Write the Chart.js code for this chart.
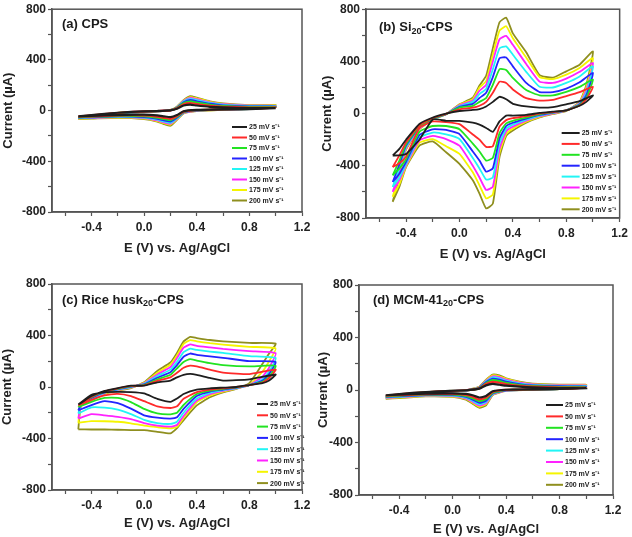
<!DOCTYPE html>
<html>
<head>
<meta charset="utf-8">
<script src="https://cdn.jsdelivr.net/npm/chart.js@4.4.0/dist/chart.umd.min.js"></script>
<style>
  html, body { margin: 0; padding: 0; background: #fff; }
  #figure { position: relative; width: 632px; height: 537px; }
  canvas { position: absolute; }
</style>
</head>
<body>
<div id="figure">
  <canvas id="chartA" width="316" height="268" style="left:0;top:0"></canvas>
  <canvas id="chartB" width="316" height="268" style="left:316px;top:0"></canvas>
  <canvas id="chartC" width="316" height="269" style="left:0;top:268px"></canvas>
  <canvas id="chartD" width="316" height="269" style="left:316px;top:268px"></canvas>
</div>
<script>
const scanRates = ['25 mV s⁻¹', '50 mV s⁻¹', '75 mV s⁻¹', '100 mV s⁻¹', '125 mV s⁻¹', '150 mV s⁻¹', '175 mV s⁻¹', '200 mV s⁻¹'];
const lineColors = ['#1e1e1e', '#ff2a2a', '#22e322', '#2424ff', '#22f5f5', '#ff22ff', '#f5f500', '#8f8f1f'];

const xTicks = [-0.6, -0.4, -0.2, 0.0, 0.2, 0.4, 0.6, 0.8, 1.0, 1.2];
const xLabels = ['', '-0.4', '', '0.0', '', '0.4', '', '0.8', '', '1.2'];
const yTicks = [-800, -600, -400, -200, 0, 200, 400, 600, 800];
const yLabels = ['-800', '', '-400', '', '0', '', '400', '', '800'];

// potential along each loop: forward scan, then reverse scan (V)
const potentialA = [-0.5, -0.3, -0.1, 0.1, 0.2, 0.25, 0.3, 0.35, 0.4, 0.5, 0.6, 0.8, 1.0,
  0.8, 0.6, 0.4, 0.3, 0.25, 0.2, 0.15, 0.1, 0.0, -0.2, -0.4, -0.5];
const potentialB = [-0.5, -0.45, -0.4, -0.3, -0.2, -0.1, 0.0, 0.1, 0.15, 0.2, 0.25, 0.3, 0.35, 0.4, 0.5, 0.6, 0.7, 0.8, 0.9, 1.0,
  0.95, 0.9, 0.8, 0.7, 0.6, 0.5, 0.4, 0.35, 0.3, 0.25, 0.2, 0.15, 0.1, 0.0, -0.1, -0.2, -0.3, -0.4, -0.45, -0.5];
const potentialC = [-0.5, -0.48, -0.4, -0.3, -0.2, -0.1, 0.0, 0.1, 0.2, 0.25, 0.3, 0.35, 0.4, 0.5, 0.6, 0.8, 1.0,
  0.95, 0.9, 0.8, 0.7, 0.6, 0.5, 0.4, 0.3, 0.25, 0.2, 0.1, 0.0, -0.1, -0.2, -0.3, -0.4, -0.5];
const potentialD = potentialA;

// currents (uA), one row per scan rate
const currentA = [
  [-45, -25, -10, -3, 2, 15, 40, 47, 40, 30, 25, 20, 20, 12, 10, 5, -5, -35, -52, -45, -38, -32, -35, -42, -45],
  [-48, -27, -11, -4, 2, 18, 50, 60, 52, 38, 30, 24, 24, 13, 10, 4, -8, -42, -65, -57, -48, -38, -38, -45, -48],
  [-51, -29, -12, -4, 3, 20, 58, 72, 63, 46, 35, 28, 28, 14, 10, 3, -10, -48, -75, -66, -56, -44, -41, -48, -51],
  [-54, -30, -13, -5, 3, 22, 64, 82, 72, 53, 40, 32, 31, 14, 9, 2, -12, -54, -85, -75, -63, -49, -44, -51, -54],
  [-57, -31, -13, -5, 3, 24, 70, 90, 81, 59, 45, 35, 34, 15, 9, 1, -14, -59, -95, -84, -70, -54, -47, -54, -57],
  [-60, -32, -14, -5, 4, 26, 74, 98, 88, 64, 49, 38, 37, 15, 9, 0, -16, -63, -102, -91, -76, -58, -50, -57, -60],
  [-63, -34, -15, -5, 4, 28, 77, 105, 95, 68, 52, 40, 40, 15, 8, -1, -18, -67, -110, -98, -81, -62, -53, -60, -63],
  [-65, -35, -15, -5, 5, 30, 80, 112, 100, 72, 55, 42, 42, 15, 8, -2, -20, -70, -118, -105, -85, -65, -55, -62, -65]
];
const currentB = [
  [-321, -270, -200, -80, -30, 0, 20, 28, 35, 55, 90, 129, 110, 75, 55, 46, 50, 71, 95, 139,
    90, 60, 25, 15, 5, -10, -15, -15, -60, -140, -110, -85, -70, -56, -55, -45, -200, -309, -320, -321],
  [-410, -320, -220, -90, -35, -2, 33, 45, 60, 90, 160, 245, 235, 185, 118, 100, 105, 134, 165, 205,
    110, 62, 25, 12, 0, -20, -35, -50, -100, -250, -255, -200, -160, -81, -65, -60, -110, -330, -380, -410],
  [-473, -360, -235, -100, -38, -3, 45, 60, 90, 120, 220, 340, 335, 273, 180, 140, 140, 167, 205, 261,
    120, 65, 25, 10, -5, -30, -55, -75, -150, -340, -360, -290, -230, -119, -95, -95, -140, -350, -420, -473],
  [-524, -390, -245, -105, -40, -4, 52, 75, 120, 160, 280, 425, 430, 362, 235, 165, 165, 192, 240, 311,
    140, 70, 25, 8, -10, -38, -70, -95, -190, -420, -445, -360, -290, -157, -125, -120, -165, -370, -460, -524],
  [-562, -420, -255, -110, -42, -5, 58, 90, 150, 190, 340, 500, 515, 451, 320, 205, 200, 235, 285, 362,
    160, 75, 25, 5, -15, -46, -85, -115, -230, -490, -505, -420, -340, -195, -160, -145, -185, -385, -490, -562],
  [-600, -440, -262, -115, -43, -5, 63, 100, 175, 220, 400, 570, 595, 527, 380, 245, 235, 268, 320, 387,
    180, 80, 25, 2, -20, -54, -100, -135, -270, -560, -585, -490, -400, -246, -195, -170, -205, -395, -510, -600],
  [-638, -460, -268, -118, -44, -5, 68, 110, 200, 250, 450, 635, 670, 577, 430, 280, 265, 299, 350, 425,
    200, 85, 22, 0, -25, -62, -115, -155, -300, -620, -650, -550, -450, -309, -250, -195, -225, -405, -540, -638],
  [-676, -480, -275, -120, -45, -5, 71, 122, 215, 290, 500, 700, 735, 615, 470, 295, 275, 324, 375, 476,
    220, 90, 20, -3, -30, -70, -130, -170, -334, -690, -727, -613, -511, -385, -296, -213, -245, -410, -560, -676]
];
const currentC = [
  [-135, -125, -70, -30, -8, 10, 10, 36, 50, 75, 95, 102, 95, 70, 50, 60, 97,
    50, 30, 15, 0, -5, -10, -20, -54, -90, -115, -92, -50, -40, -38, -41, -60, -135],
  [-143, -130, -75, -33, -11, 8, 13, 48, 75, 110, 150, 166, 160, 135, 112, 100, 135,
    70, 35, 15, 0, -10, -20, -40, -92, -150, -163, -150, -110, -70, -53, -65, -100, -143],
  [-155, -135, -80, -36, -14, 5, 16, 60, 95, 145, 195, 217, 205, 185, 170, 160, 165,
    80, 40, 15, -2, -15, -28, -55, -140, -200, -212, -205, -170, -117, -85, -85, -115, -155],
  [-181, -138, -85, -40, -17, 3, 20, 72, 115, 170, 235, 260, 250, 238, 227, 201, 195,
    100, 50, 15, -5, -20, -35, -70, -170, -235, -245, -238, -220, -168, -125, -110, -140, -181],
  [-206, -141, -90, -44, -20, 0, 24, 85, 135, 195, 270, 298, 288, 275, 265, 240, 225,
    120, 60, 15, -8, -25, -45, -90, -200, -270, -287, -280, -255, -210, -176, -160, -158, -206],
  [-245, -144, -95, -47, -23, -3, 28, 97, 155, 225, 305, 331, 320, 308, 296, 278, 262,
    150, 80, 15, -10, -30, -55, -105, -225, -295, -308, -300, -280, -250, -232, -220, -211, -245],
  [-278, -147, -100, -50, -25, -5, 32, 110, 175, 245, 335, 364, 355, 340, 329, 312, 300,
    200, 120, 15, -12, -35, -65, -118, -240, -310, -321, -312, -300, -282, -270, -266, -265, -278],
  [-329, -150, -104, -53, -28, -8, 36, 125, 190, 265, 354, 389, 380, 365, 355, 342, 337,
    260, 180, 30, -15, -41, -80, -143, -257, -320, -360, -348, -335, -335, -332, -330, -330, -329]
];
const currentD = [
  [-40, -22, -10, -2, 10, 35, 46, 40, 33, 25, 20, 15, 14, 8, 5, 2, -10, -45, -57, -40, -30, -25, -28, -35, -40],
  [-44, -24, -11, -2, 12, 45, 62, 55, 44, 32, 25, 19, 18, 8, 5, 1, -15, -58, -72, -52, -38, -30, -31, -39, -44],
  [-48, -26, -12, -2, 14, 52, 75, 68, 54, 38, 29, 23, 22, 8, 4, 0, -20, -70, -85, -62, -45, -34, -34, -43, -48],
  [-51, -28, -13, -3, 16, 58, 85, 78, 62, 44, 33, 27, 26, 8, 4, -1, -24, -80, -97, -72, -51, -38, -37, -46, -51],
  [-55, -29, -14, -3, 18, 63, 95, 88, 70, 49, 37, 30, 30, 9, 4, -2, -28, -90, -108, -81, -57, -42, -40, -50, -55],
  [-58, -30, -15, -3, 20, 68, 103, 96, 77, 54, 41, 33, 33, 9, 3, -3, -31, -99, -118, -89, -62, -45, -42, -53, -58],
  [-62, -32, -16, -4, 22, 72, 110, 103, 83, 58, 44, 36, 36, 9, 3, -4, -34, -107, -126, -96, -67, -48, -45, -57, -62],
  [-65, -33, -17, -4, 24, 76, 116, 110, 88, 62, 47, 39, 39, 10, 3, -5, -37, -115, -134, -103, -72, -51, -47, -60, -65]
];

// panel captions: normal text, subscript, normal text
const panelTitles = {
  chartA: ['(a) CPS'],
  chartB: ['(b) Si', '20', '-CPS'],
  chartC: ['(c) Rice husk', '20', '-CPS'],
  chartD: ['(d) MCM-41', '20', '-CPS']
};

const fontFamily = 'Arial, "Liberation Sans", sans-serif';
Chart.defaults.font.family = fontFamily;

const frame = {
    id: 'frame',
    afterDraw(chart) {
        const {ctx, chartArea} = chart;
        ctx.save();
        ctx.strokeStyle = '#555';
        ctx.lineWidth = 1.5;
        ctx.strokeRect(chartArea.left, chartArea.top, chartArea.right - chartArea.left, chartArea.bottom - chartArea.top);
        ctx.restore();
    }
};

const panelLabel = {
    id: 'panelLabel',
    afterDraw(chart, args, opts) {
        const {ctx, chartArea} = chart;
        const parts = panelTitles[chart.canvas.id];
        let x = chartArea.left + opts.dx;
        const y = chartArea.top + opts.dy;
        ctx.save();
        ctx.fillStyle = '#1a1a1a';
        ctx.textBaseline = 'middle';
        parts.forEach((part, i) => {
            const sub = i % 2 === 1;
            ctx.font = sub ? `bold 9px ${fontFamily}` : `bold 13px ${fontFamily}`;
            ctx.fillText(part, x, sub ? y + 4 : y);
            x += ctx.measureText(part).width;
        });
        ctx.restore();
    }
};

const cvLegend = {
    id: 'cvLegend',
    afterDatasetsDraw(chart, args, opts) {
        const {ctx, chartArea} = chart;
        ctx.save();
        ctx.font = `bold 7px ${fontFamily}`;
        ctx.textBaseline = 'middle';
        ctx.fillStyle = '#222';
        chart.data.datasets.forEach((ds, i) => {
            const x = chartArea.right + opts.left;
            const y = chartArea.bottom + opts.top + i * opts.gap;
            ctx.strokeStyle = ds.borderColor;
            ctx.lineWidth = 2;
            ctx.beginPath();
            ctx.moveTo(x, y);
            ctx.lineTo(x + opts.line, y);
            ctx.stroke();
            ctx.fillText(ds.label, x + opts.line + 2, y + 0.5);
        });
        ctx.restore();
    }
};

function makeChart(id, potential, currents, cfg) {
    const datasets = currents.map((row, i) => ({
        label: scanRates[i],
        data: potential.map((e, j) => ({x: e, y: row[j]})),
        borderColor: lineColors[i],
        backgroundColor: lineColors[i],
        borderWidth: cfg.lineWidth,
        showLine: true,
        pointRadius: 0,
        tension: 0.15
    }));

    return new Chart(document.getElementById(id), {
        type: 'scatter',
        data: { datasets: datasets },
        options: {
            responsive: false,
            animation: false,
            layout: { padding: cfg.padding },
            plugins: {
                legend: { display: false },
                tooltip: { enabled: false },
                cvLegend: cfg.legend,
                panelLabel: cfg.label
            },
            scales: {
                x: {
                    type: 'linear',
                    min: -0.7,
                    max: 1.2,
                    afterBuildTicks: s => { s.ticks = xTicks.map(v => ({value: v})); },
                    afterFit: s => { s.height = cfg.xHeight; },
                    ticks: {
                        autoSkip: false,
                        maxRotation: 0,
                        padding: 4,
                        color: '#222',
                        font: { size: 12, weight: 'bold' },
                        callback: (v, i) => xLabels[i]
                    },
                    grid: { drawOnChartArea: false, tickLength: 4, color: '#555', tickWidth: 1.2 },
                    border: { color: '#555', width: 1.5 },
                    title: {
                        display: true,
                        text: 'E (V) vs. Ag/AgCl',
                        color: '#222',
                        font: { size: 13, weight: 'bold' },
                        padding: { top: 0, bottom: cfg.xTitlePad }
                    }
                },
                y: {
                    type: 'linear',
                    min: -800,
                    max: 800,
                    afterBuildTicks: s => { s.ticks = yTicks.map(v => ({value: v})); },
                    afterFit: s => { s.width = cfg.yWidth; },
                    ticks: {
                        autoSkip: false,
                        padding: 2,
                        color: '#222',
                        font: { size: 12, weight: 'bold' },
                        callback: (v, i) => yLabels[i]
                    },
                    grid: { drawOnChartArea: false, tickLength: 4, color: '#555', tickWidth: 1.2 },
                    border: { color: '#555', width: 1.5 },
                    title: {
                        display: true,
                        text: 'Current (µA)',
                        color: '#222',
                        font: { size: 13, weight: 'bold' },
                        padding: { top: cfg.yTitlePad, bottom: 0 }
                    }
                }
            }
        },
        plugins: [frame, cvLegend, panelLabel]
    });
}

makeChart('chartA', potentialA, currentA, {
    lineWidth: 2.2, padding: { left: 0, top: 7, right: 14, bottom: 6 },
    xHeight: 50, yWidth: 52, xTitlePad: 6, yTitlePad: 1,
    legend: { left: -70, top: -85, gap: 10.5, line: 15 },
    label: { dx: 10, dy: 15 }
});
makeChart('chartB', potentialB, currentB, {
    lineWidth: 1.8, padding: { left: 0, top: 7, right: 11, bottom: 0 },
    xHeight: 50, yWidth: 50, xTitlePad: 6, yTitlePad: 4,
    legend: { left: -58, top: -85, gap: 10.9, line: 18 },
    label: { dx: 13, dy: 18 }
});
makeChart('chartC', potentialC, currentC, {
    lineWidth: 1.8, padding: { left: 0, top: 16, right: 14, bottom: 0 },
    xHeight: 47, yWidth: 52, xTitlePad: 6, yTitlePad: 0,
    legend: { left: -45, top: -86, gap: 11.3, line: 11 },
    label: { dx: 10, dy: 16 }
});
makeChart('chartD', potentialD, currentD, {
    lineWidth: 2.2, padding: { left: 0, top: 17, right: 19, bottom: 0 },
    xHeight: 42, yWidth: 43, xTitlePad: 0, yTitlePad: 0,
    legend: { left: -67, top: -90, gap: 11.4, line: 17 },
    label: { dx: 14, dy: 15 }
});
</script>
</body>
</html>
